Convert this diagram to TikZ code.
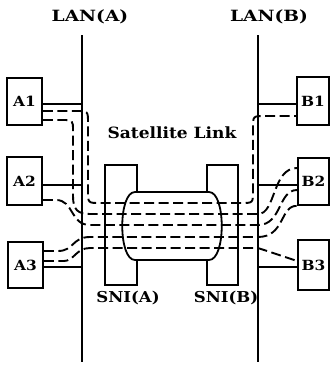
\documentclass[tikz,border=0pt]{standalone}
\usepackage{fontspec}
\usepackage{graphicx}
\setmainfont{DejaVu Serif}
\newcommand{\wtxt}[2][1.2]{\scalebox{#1}[1]{\bfseries #2}}
\begin{document}
\begin{tikzpicture}[x=1pt,y=-1pt,
  box/.style={draw,line width=1.8pt,inner sep=0pt,font=\fontsize{14}{16}\selectfont},
  lbl/.style={inner sep=0pt,font=\fontsize{15.5}{17}\selectfont},
  wire/.style={line width=1.8pt},
  link/.style={line width=1.9pt,dash pattern=on 10pt off 4.5pt}]
\useasboundingbox (0,0) rectangle (330,365);
% LAN lines
\coordinate (lanAtop) at (82,35);
\coordinate (lanAbot) at (82,362);
\coordinate (lanBtop) at (258,35);
\coordinate (lanBbot) at (258,362);
\draw[wire] (lanAtop) -- (lanAbot);
\draw[wire] (lanBtop) -- (lanBbot);
\node[lbl] (lA) at (90,17) {\wtxt{LAN(A)}};
\node[lbl] (lB) at (269,17) {\wtxt{LAN(B)}};
% hosts
\node[box,minimum width=35pt,minimum height=47pt] (A1) at (24.5,101.5) {\wtxt[1.1]{A1}};
\node[box,minimum width=35pt,minimum height=48pt] (A2) at (24.5,181) {\wtxt[1.1]{A2}};
\node[box,minimum width=35pt,minimum height=46pt] (A3) at (25.5,265) {\wtxt[1.1]{A3}};
\node[box,minimum width=32pt,minimum height=48pt] (B1) at (313,101) {\wtxt[1.1]{B1}};
\node[box,minimum width=31pt,minimum height=47pt] (B2) at (313.5,181.5) {\wtxt[1.1]{B2}};
\node[box,minimum width=31pt,minimum height=50pt] (B3) at (313.5,265) {\wtxt[1.1]{B3}};
% LAN attachments
\draw[wire] (A1.east|-0,104) -- (lanAtop|-0,104);
\draw[wire] (A2.east|-0,185) -- (lanAtop|-0,185);
\draw[wire] (A3.east|-0,267) -- (lanAtop|-0,267);
\draw[wire] (B1.west|-0,104) -- (lanBtop|-0,104);
\draw[wire] (B2.west|-0,185) -- (lanBtop|-0,185);
\draw[wire] (B3.west|-0,267) -- (lanBtop|-0,267);
% SNI boxes
\node[box,minimum width=32pt,minimum height=120pt] (sniA) at (121,225) {};
\node[box,minimum width=31pt,minimum height=120pt] (sniB) at (222.5,225) {};
\node[lbl,font=\fontsize{15}{17}\selectfont] (tsniA) at (128,298) {\wtxt[1.1]{SNI(A)}};
\node[lbl,font=\fontsize{15}{17}\selectfont] (tsniB) at (226,298) {\wtxt[1.1]{SNI(B)}};
% satellite link capsule
\draw[wire,fill=white] (135,192) -- (209,192) .. controls (226,192) and (226,260) .. (209,260)
  -- (135,260) .. controls (118,260) and (118,192) .. (135,192) -- cycle;
\node[lbl] (tsat) at (172,133) {\wtxt[1.1]{Satellite Link}};
% virtual links
\draw[link] (A1.east|-0,111) -- (76,111) .. controls (88,111) .. (88,123) -- (88,191)
  .. controls (88,203) .. (100,203) -- (241,203) .. controls (253,203) .. (253,191)
  -- (253,128) .. controls (253,116) .. (265,116) -- (B1.west|-0,116);
\draw[link] (A1.east|-0,120) -- (62,120) .. controls (73,120) .. (73,131) -- (73,196)
  .. controls (73,210) and (78,214) .. (90,214) -- (258,214)
  .. controls (276,214) and (272,168) .. (B2.west|-0,168);
\draw[link] (A2.east|-0,200) -- (56,200) .. controls (74,200) and (70,225) .. (90,225)
  -- (258,225) .. controls (282,225) and (278,190) .. (B2.west|-0,190);
\draw[link] (A3.east|-0,251) -- (58,251) .. controls (74,251) and (72,237) .. (90,237)
  -- (258,237) .. controls (285,237) and (280,205) .. (B2.south west);
\draw[link] (A3.east|-0,261) -- (64,261) .. controls (74,261) and (76,248) .. (90,248)
  -- (258,248) -- (B3.west|-0,261);
\end{tikzpicture}
\end{document}
